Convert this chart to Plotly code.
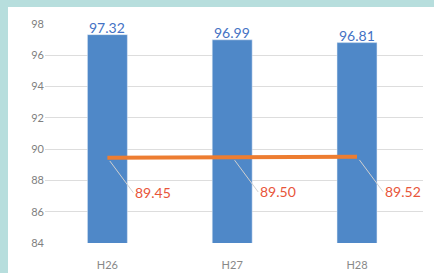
import plotly.graph_objects as go

categories = ["H26", "H27", "H28"]
bar_values = [97.32, 96.99, 96.81]
line_values = [89.45, 89.50, 89.52]
y_ticks = [84, 86, 88, 90, 92, 94, 96, 98]

BAR_COLOR = "#4F88C8"
LINE_COLOR = "#ED7D31"
LABEL_RED = "#E8553A"
TEAL = "#B7DEDD"
FONT = "Lato"

fig = go.Figure()
fig.add_trace(go.Bar(
    x=categories, y=bar_values, marker_color=BAR_COLOR, width=0.32,
    showlegend=False,
))
fig.add_trace(go.Scatter(
    x=categories, y=line_values, mode="lines",
    line=dict(color=LINE_COLOR, width=4), showlegend=False,
))

for c, v in zip(categories, bar_values):
    fig.add_annotation(
        x=c, y=v, xref="x", yref="y", text=f"{v:.2f}",
        showarrow=False, yanchor="bottom", yshift=-3,
        font=dict(color="#4472C4", size=14, family=FONT),
    )

for c, v in zip(categories, line_values):
    fig.add_annotation(
        x=c, y=v, xref="x", yref="y", text=f"{v:.2f}",
        showarrow=True, arrowhead=0, arrowwidth=1, arrowcolor="#D0D0D0",
        ax=26, ay=35, standoff=4, xanchor="left",
        font=dict(color=LABEL_RED, size=14, family=FONT),
    )

# white panel over teal frame
fig.add_shape(type="rect", xref="paper", yref="paper",
              x0=-37/378, x1=1 + 11/378, y0=-30/219, y1=1 + 17/219,
              fillcolor="white", line_width=0, layer="below")

fig.update_layout(
    width=434, height=273,
    margin=dict(l=45, r=11, t=24, b=30, autoexpand=False),
    paper_bgcolor=TEAL, plot_bgcolor="white",
    bargap=0.68,
    xaxis=dict(showgrid=False, showline=False, ticks="", automargin=False,
               tickfont=dict(size=11, color="#888888", family=FONT),
               ticklabelstandoff=14),
    yaxis=dict(range=[84, 98], tickvals=y_ticks, showgrid=True, automargin=False,
               gridcolor="#DDDDDD", gridwidth=1, zeroline=False,
               tickfont=dict(size=11, color="#808080", family=FONT),
               ticklabelstandoff=0),
    font=dict(family=FONT),
)

fig.write_html("out.html", config={"displayModeBar": False},
               post_script="document.body.style.margin='0';")
